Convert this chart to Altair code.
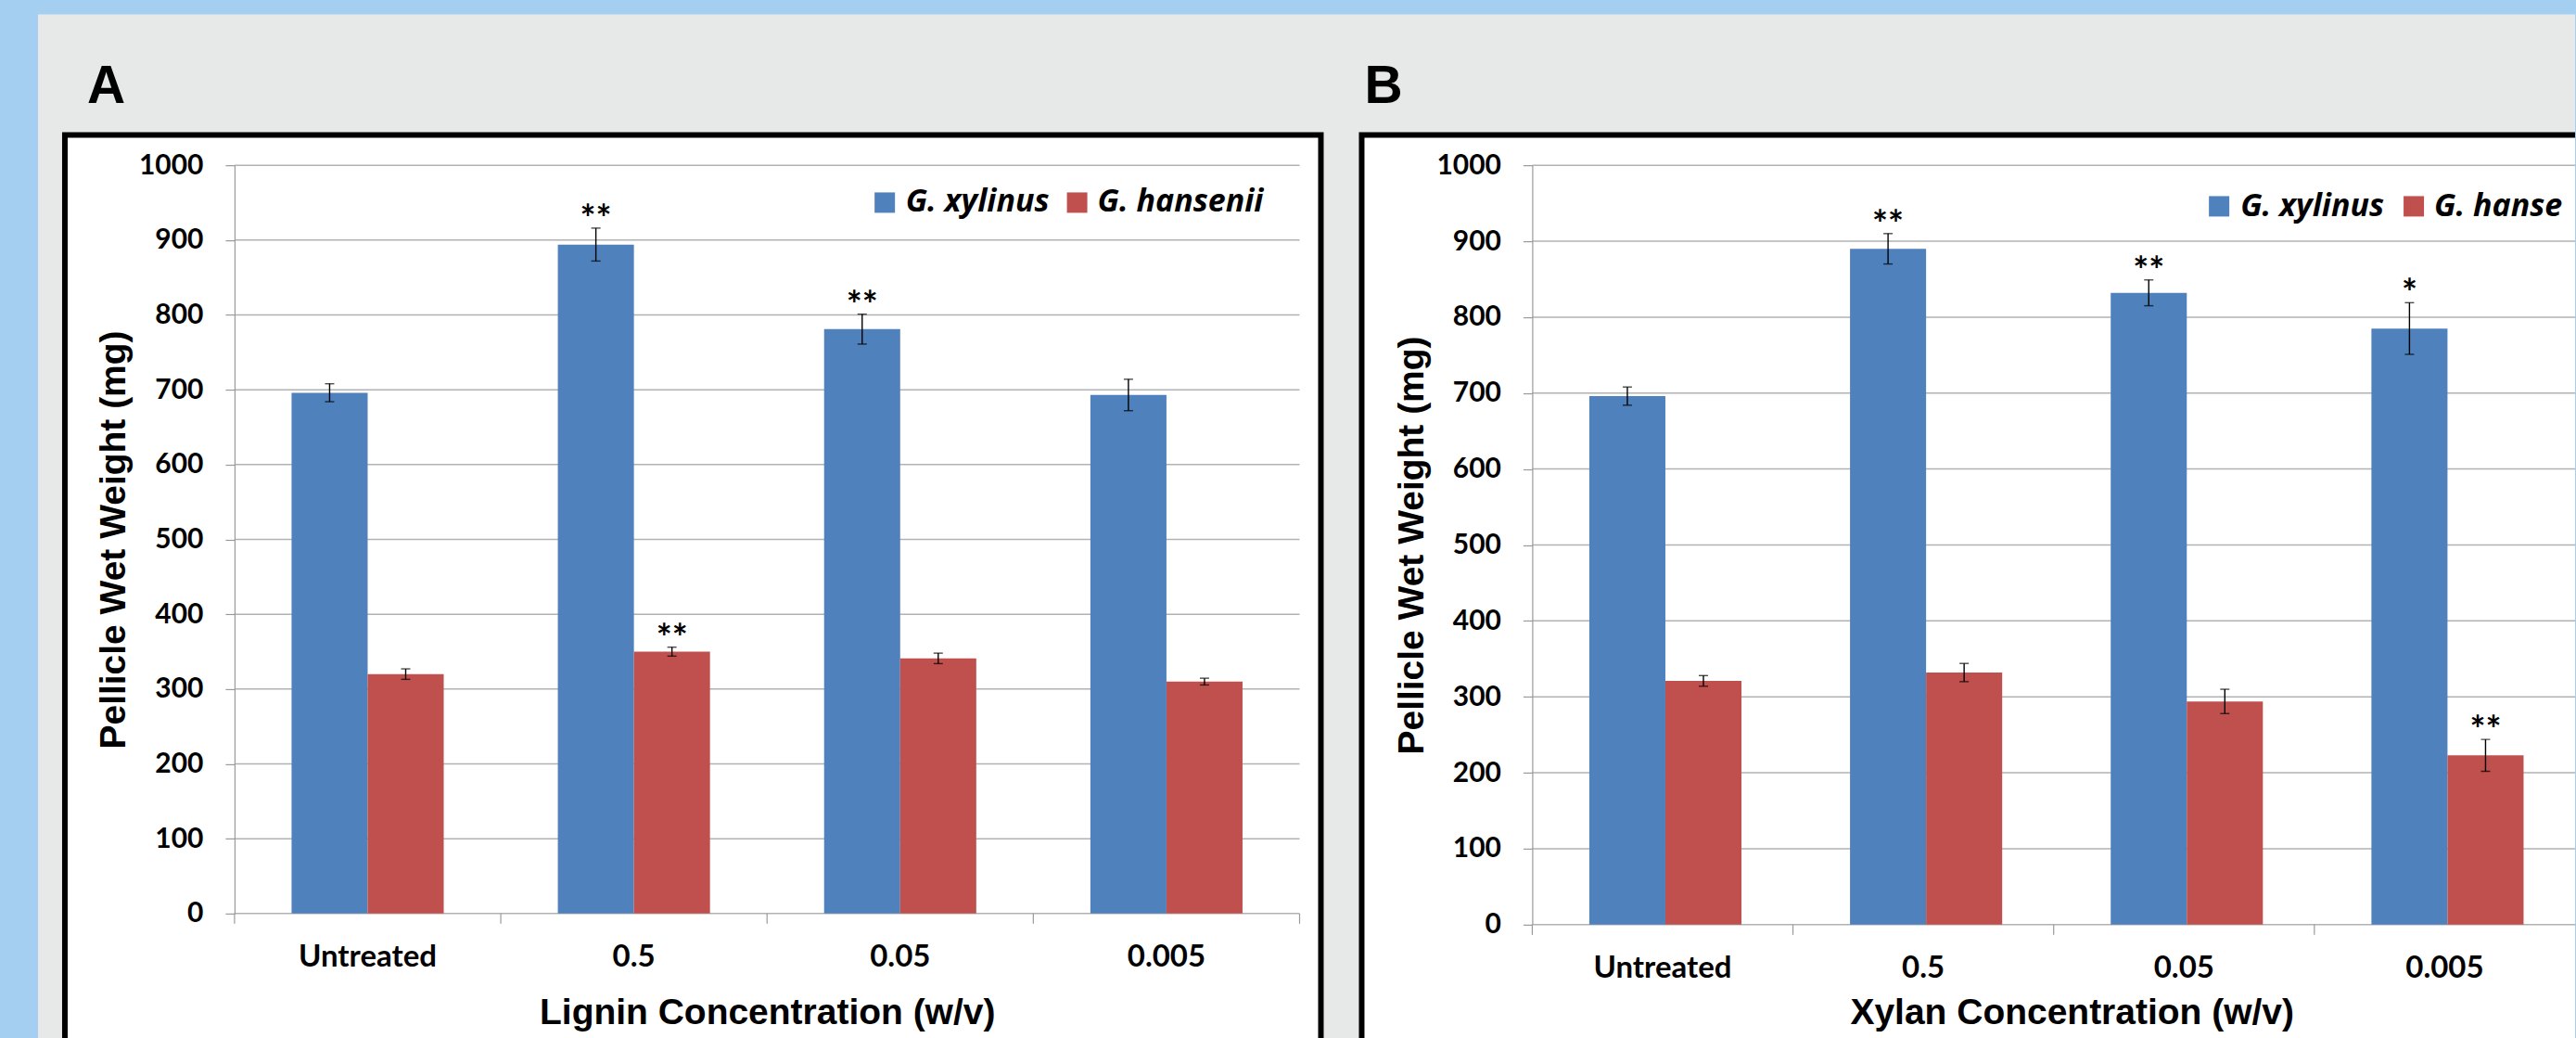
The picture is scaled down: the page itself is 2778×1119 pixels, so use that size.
import altair as alt
import pandas as pd

# ---------------- data ----------------
categories = ["Untreated", "0.5", "0.05", "0.005"]
series = ["G. xylinus", "G. hansenii"]
colors = ["#4F81BD", "#C0504D"]
y_ticks = [0, 100, 200, 300, 400, 500, 600, 700, 800, 900, 1000]

lignin_xylinus = [696, 894, 781, 693]
lignin_xylinus_err = [12, 22, 20, 21]
lignin_hansenii = [320, 350, 341, 310]
lignin_hansenii_err = [7, 6, 7, 4.5]
lignin_xylinus_sig = ["", "**", "**", ""]
lignin_hansenii_sig = ["", "**", "", ""]

xylan_xylinus = [696, 890, 832, 785]
xylan_xylinus_err = [12, 20, 17, 34]
xylan_hansenii = [321, 332, 294, 223]
xylan_hansenii_err = [7, 12, 16, 21]
xylan_xylinus_sig = ["", "**", "**", "*"]
xylan_hansenii_sig = ["", "", "", "**"]

BLUE_BG = "#A5CFF1"
GRAY_BG = "#E7E9E8"
GRID = "#B2B2B2"
AXIS = "#9A9A9A"


def table(xyl, xyl_err, han, han_err, xyl_sig, han_sig):
    rows = []
    for s, vals, errs, sigs in [(series[0], xyl, xyl_err, xyl_sig),
                                (series[1], han, han_err, han_sig)]:
        for c, v, e, g in zip(categories, vals, errs, sigs):
            rows.append(dict(cat=c, series=s, value=v, lo=v - e, hi=v + e, sig=g))
    return pd.DataFrame(rows)


one = pd.DataFrame({"k": [0]})


def panel(df, letter, xtitle, width, height, outer_pad, off_pad, g, draw_bg=False, end_tick=True):
    xscale = alt.Scale(domain=categories, paddingInner=0,
                       paddingOuter=alt.ExprRef(expr=repr(outer_pad)), align=0)
    yscale = alt.Scale(domain=[0, 1000], nice=False, zero=True)
    cscale = alt.Scale(domain=series, range=colors)
    oscale = alt.Scale(domain=series, paddingInner=0, paddingOuter=off_pad)

    xaxis = alt.Axis(domain=False, ticks=True, tickSize=0, labelAngle=0,
                     labelFont="Lato", labelFontSize=33, labelFontWeight="bold",
                     labelColor="black", labelPadding=31,
                     title=xtitle, titleFont="Liberation Sans", titleFontSize=39,
                     titleFontWeight="bold", titleColor="black",
                     titleX=g["title_x"], titleY=g["title_y"],
                     titleBaseline="alphabetic", titleAlign="center", zindex=1)
    yaxis = alt.Axis(values=y_ticks, format="d", grid=False,
                     domain=True, domainColor=AXIS, domainWidth=1.2,
                     ticks=True, tickSize=10, tickColor=AXIS, tickWidth=1.2,
                     labelFont="Lato", labelFontSize=30, labelFontWeight="bold",
                     labelColor="black", labelPadding=24,
                     title="Pellicle Wet Weight (mg)", titleFont="Liberation Sans",
                     titleFontSize=39, titleFontWeight="bold", titleColor="black",
                     titleAngle=270, titleAlign="center", titleBaseline="alphabetic",
                     titleX=-118, titleY=height / 2, zindex=1)

    X = lambda **kw: alt.X("cat:N", sort=categories, scale=xscale, axis=xaxis, **kw)
    XO = alt.XOffset("series:N", sort=series, scale=oscale)
    C = alt.Color("series:N", scale=cscale, legend=None)

    def Y(field):
        return alt.Y(field, type="quantitative", scale=yscale, axis=yaxis)

    layers = []
    if draw_bg:
        layers.append(alt.Chart(one).mark_rect(color=GRAY_BG).encode(
            x=alt.value(g["bg"][0]), x2=alt.value(g["bg"][1]),
            y=alt.value(g["bg"][2]), y2=alt.value(g["bg"][3])))
    bx = g["box"]
    layers.append(alt.Chart(one).mark_rect(color="black").encode(
        x=alt.value(bx[0]), x2=alt.value(bx[1]), y=alt.value(bx[2]), y2=alt.value(bx[3])))
    layers.append(alt.Chart(one).mark_rect(color="white").encode(
        x=alt.value(bx[0] + 6), x2=alt.value(bx[1] - 6 if bx[4] else bx[1]),
        y=alt.value(bx[2] + 6), y2=alt.value(bx[3])))
    layers.append(alt.Chart(one).mark_text(
        font="Liberation Sans", fontSize=57, fontWeight="bold", align="left",
        baseline="alphabetic", color="black").encode(
        x=alt.value(g["letter"][0]), y=alt.value(g["letter"][1]), text=alt.value(letter)))

    # gridlines
    layers.append(alt.Chart(pd.DataFrame({"tick": y_ticks})).mark_rule(
        color=GRID, strokeWidth=1.5).encode(y=Y("tick")))
    # category boundary ticks below the axis
    layers.append(alt.Chart(pd.DataFrame({"cat": categories})).mark_rule(
        color=AXIS, strokeWidth=1.2).encode(
        x=X(bandPosition=0), y=alt.value(height), y2=alt.value(height + 11)))
    if end_tick:
        layers.append(alt.Chart(pd.DataFrame({"cat": categories[-1:]})).mark_rule(
            color=AXIS, strokeWidth=1.2).encode(
            x=X(bandPosition=1), y=alt.value(height), y2=alt.value(height + 11)))

    base = alt.Chart(df)
    layers.append(base.mark_bar().encode(x=X(), xOffset=XO, y=Y("value"), color=C))
    layers.append(base.mark_rule(color="black", strokeWidth=1.4).encode(
        x=X(), xOffset=XO, y=Y("lo"), y2="hi:Q"))
    layers.append(base.mark_tick(color="black", size=10, thickness=1.4).encode(
        x=X(), xOffset=XO, y=Y("lo")))
    layers.append(base.mark_tick(color="black", size=10, thickness=1.4).encode(
        x=X(), xOffset=XO, y=Y("hi")))
    layers.append(base.transform_filter("datum.sig != ''").mark_text(
        font="Lato", fontSize=40, fontWeight="bold", color="black",
        baseline="alphabetic", align="center", dy=4).encode(
        x=X(), xOffset=XO, y=Y("hi"), text="sig:N"))

    # legend (drawn inside the plot, like the original)
    for i, s in enumerate(series):
        sd = pd.DataFrame({"series": [s]})
        layers.append(alt.Chart(sd).mark_square(size=484, opacity=1).encode(
            x=alt.value(g["leg_sq"][i]), y=alt.value(g["leg_y"][0]), color=C))
        tkw = dict(font="Open Sans", fontSize=34, fontWeight="bold", fontStyle="italic",
                   align="left", baseline="alphabetic", color="black")
        if g["leg_limit"][i]:
            tkw.update(limit=g["leg_limit"][i], ellipsis=" ")
        layers.append(alt.Chart(sd).mark_text(**tkw).encode(
            x=alt.value(g["leg_tx"][i]), y=alt.value(g["leg_y"][1]), text="series:N"))

    return alt.layer(*layers).properties(width=width, height=height)


geomA = dict(
    bg=[-212, 2525, -162.7, 941.3],
    box=[-186, 1175, -35.7, 941.3, True],
    letter=[-159, -66.7],
    title_x=574.5, title_y=119,
    leg_sq=[701.5, 909], leg_tx=[724, 931], leg_y=[40.3, 50.3],
    leg_limit=[0, 0],
)
geomB = dict(
    box=[-187, 1125, -35.7, 941.3, False],
    letter=[-181, -66.7],
    title_x=582, title_y=107,
    leg_sq=[741, 951], leg_tx=[764, 973], leg_y=[44.3, 55],
    leg_limit=[0, 150],
)

dfA = table(lignin_xylinus, lignin_xylinus_err, lignin_hansenii, lignin_hansenii_err,
            lignin_xylinus_sig, lignin_hansenii_sig)
dfB = table(xylan_xylinus, xylan_xylinus_err, xylan_hansenii, xylan_hansenii_err,
            xylan_xylinus_sig, xylan_hansenii_sig)

# panel B is cut off by the image edge: its 4 bands (step 291) run past the 1125 px visible width
B_WIDTH = 1125
B_STEP = 291
b_outer = round((B_WIDTH / B_STEP - len(categories)) / 2, 5)

panelA = panel(dfA, "A", "Lignin Concentration (w/v)", 1149, 807, 0, 0.75, geomA,
               draw_bg=True, end_tick=True)
panelB = panel(dfB, "B", "Xylan Concentration (w/v)", B_WIDTH, 819, b_outer, 0.73, geomB,
               draw_bg=False, end_tick=False)

chart = alt.hconcat(panelA, panelB, spacing=251, bounds="flush").properties(
    padding={"left": 41, "top": 15, "right": 0, "bottom": 0},
    background=BLUE_BG,
).configure_view(stroke=None)

chart.save("out.html", embed_options={"renderer": "svg", "actions": False})
